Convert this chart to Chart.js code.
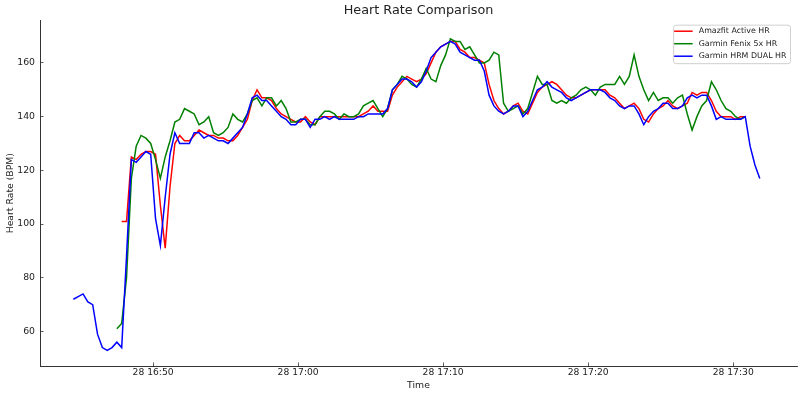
<!DOCTYPE html>
<html>
<head>
<meta charset="utf-8">
<title>Heart Rate Comparison</title>
<script src="https://cdn.jsdelivr.net/npm/chart.js@4.4.0/dist/chart.umd.min.js"></script>
<style>
  html, body { margin: 0; padding: 0; background: #fff; }
  #wrap { width: 800px; height: 397px; }
</style>
</head>
<body>
<div id="wrap"><canvas id="hr-chart" width="800" height="397"></canvas></div>
<script>
/* Samples every 20 s, time in minutes after 16:00 on the 28th */
var T0 = 44.5;
var STEP = 1 / 3;

var LABELS = ['Amazfit Active HR', 'Garmin Fenix 5x HR', 'Garmin HRM DUAL HR'];

/* first sample index of each series on the 20 s grid */
var RED_START = 10;
var GREEN_START = 9;
var BLUE_START = 0;

var RED_HR = [
  101, 101, 125, 124, 126, 127, 127, 126, 107, 91,
  114, 130, 133, 131, 131, 133, 135, 134, 133, 133,
  132, 132, 131, 131, 133, 136, 139, 146, 150, 147,
  147, 146, 143, 141, 140, 139, 138, 138, 140, 138,
  137, 140, 140, 140, 140, 140, 140, 140, 140, 140,
  141, 142, 144, 142, 142, 142, 148, 151, 153, 155,
  154, 153, 154, 156, 160, 164, 166, 167, 168, 168,
  165, 164, 162, 162, 161, 160, 152, 146, 143, 141,
  142, 144, 145, 142, 141, 145, 149, 151, 152, 153,
  152, 150, 148, 147, 147, 148, 149, 150, 150, 150,
  150, 148, 147, 145, 143, 144, 145, 143, 139, 138,
  141, 143, 144, 146, 144, 143, 144, 145, 149, 148,
  149, 149, 146, 142, 140, 140, 140, 139, 140, 140
];

var GREEN_HR = [
  61,
  63, 80, 117, 129, 133, 132, 130, 124, 117, 125,
  131, 138, 139, 143, 142, 141, 137, 138, 140, 134,
  133, 134, 136, 141, 139, 138, 141, 146, 147, 144,
  147, 147, 144, 146, 143, 138, 138, 139, 139, 137,
  137, 140, 142, 142, 141, 139, 141, 140, 140, 141,
  144, 145, 146, 143, 140, 143, 150, 152, 155, 154,
  152, 151, 154, 158, 154, 153, 159, 163, 169, 168,
  168, 165, 166, 163, 160, 160, 161, 164, 163, 145,
  142, 143, 144, 141, 143, 149, 155, 152, 152, 146,
  145, 146, 145, 147, 148, 150, 151, 150, 148, 151,
  152, 152, 152, 155, 152, 155, 163, 155, 150, 146,
  149, 146, 147, 147, 145, 147, 148, 141, 135, 140,
  144, 146, 153, 150, 146, 143, 142, 140, 139, 140
];

var BLUE_HR = [
  72, 73, 74, 71, 70, 59, 54, 53, 54, 56,
  54, 88, 124, 123, 125, 127, 126, 102, 92, 110,
  126, 134, 130, 130, 130, 134, 134, 132, 133, 132,
  131, 131, 130, 132, 134, 136, 141, 147, 148, 146,
  146, 144, 142, 140, 139, 137, 137, 139, 139, 136,
  139, 139, 140, 139, 140, 139, 139, 139, 139, 140,
  140, 141, 141, 141, 141, 143, 150, 152, 154, 154,
  153, 151, 153, 157, 162, 164, 166, 167, 168, 167,
  164, 163, 162, 161, 161, 157, 148, 144, 142, 141,
  142, 144, 144, 140, 142, 146, 150, 151, 153, 151,
  150, 149, 147, 146, 147, 148, 149, 150, 150, 150,
  149, 147, 146, 144, 143, 144, 144, 141, 137, 140,
  142, 143, 145, 145, 143, 143, 144, 147, 148, 147,
  148, 148, 144, 139, 140, 139, 139, 139, 139, 140,
  129, 122, 117
];

var X_MIN = 42.2, X_MAX = 94.4;   /* minutes after 16:00 */
var Y_MIN = 47.15, Y_MAX = 175.85;

var FONT = "'DejaVu Sans', sans-serif";

function toPoints(values, start) {
  return values.map(function (v, i) {
    return { x: T0 + (start + i) * STEP, y: v };
  });
}

function timeLabel(v) {
  var h = 16 + Math.floor(v / 60);
  var m = Math.round(v % 60);
  return '28 ' + h + ':' + (m < 10 ? '0' + m : m);
}

/* centre the title over the plot area instead of the whole canvas */
var titleOverPlot = {
  id: 'titleOverPlot',
  afterLayout: function (chart) {
    if (chart.titleBlock) {
      chart.titleBlock.left = chart.chartArea.left;
      chart.titleBlock.right = chart.chartArea.right;
    }
  }
};

/* matplotlib-style legend box inside the top-right corner */
var insideLegend = {
  id: 'insideLegend',
  afterDraw: function (chart) {
    var ctx = chart.ctx;
    var area = chart.chartArea;
    var sets = chart.data.datasets;
    ctx.save();
    ctx.font = '7.9px ' + FONT;
    var textW = 0;
    sets.forEach(function (d) { textW = Math.max(textW, ctx.measureText(d.label).width); });
    var rowH = 12.5;
    var w = 25.6 + textW + 3.5;
    var h = rowH * sets.length + 1;
    var right = area.right - 7;
    var left = right - w;
    var top = area.top + 4.3;

    ctx.beginPath();
    ctx.roundRect(left + 0.5, top + 0.5, w, h, 2.5);
    ctx.fillStyle = 'rgba(255,255,255,0.8)';
    ctx.fill();
    ctx.strokeStyle = '#d0d0d0';
    ctx.lineWidth = 1;
    ctx.stroke();

    ctx.textBaseline = 'middle';
    ctx.textAlign = 'left';
    sets.forEach(function (d, i) {
      var cy = top + rowH * (i + 0.5) + 0.3;
      ctx.beginPath();
      ctx.moveTo(left + 1, cy);
      ctx.lineTo(left + 19.5, cy);
      ctx.strokeStyle = d.borderColor;
      ctx.lineWidth = 1.5;
      ctx.stroke();
      ctx.fillStyle = '#222';
      ctx.fillText(d.label, left + 25.6, cy);
    });
    ctx.restore();
  }
};

var ctx = document.getElementById('hr-chart').getContext('2d');

new Chart(ctx, {
  type: 'line',
  data: {
    datasets: [
      {
        label: LABELS[0],
        data: toPoints(RED_HR, RED_START),
        borderColor: '#ff0000',
        borderWidth: 1.5,
        pointRadius: 0,
        tension: 0,
        fill: false,
        order: 2
      },
      {
        label: LABELS[1],
        data: toPoints(GREEN_HR, GREEN_START),
        borderColor: '#008000',
        borderWidth: 1.5,
        pointRadius: 0,
        tension: 0,
        fill: false,
        order: 1
      },
      {
        label: LABELS[2],
        data: toPoints(BLUE_HR, BLUE_START),
        borderColor: '#0000ff',
        borderWidth: 1.5,
        pointRadius: 0,
        tension: 0,
        fill: false,
        order: 0
      }
    ]
  },
  plugins: [titleOverPlot, insideLegend],
  options: {
    responsive: false,
    animation: false,
    events: [],
    layout: { padding: { left: 0, right: 3, top: 0, bottom: 0 } },
    plugins: {
      legend: { display: false },
      tooltip: { enabled: false },
      title: {
        display: true,
        text: 'Heart Rate Comparison',
        color: '#222',
        font: { family: FONT, size: 12.8, weight: 'normal' },
        padding: { top: 3, bottom: 2 }
      }
    },
    scales: {
      x: {
        type: 'linear',
        min: X_MIN,
        max: X_MAX,
        afterFit: function (scale) { scale.height = 31; },
        afterBuildTicks: function (scale) {
          scale.ticks = scale.ticks.filter(function (t) {
            return Math.abs(t.value - Math.round(t.value / 10) * 10) < 1e-6;
          });
        },
        ticks: {
          stepSize: 10,
          color: '#222',
          padding: 4.3,
          maxRotation: 0,
          autoSkip: false,
          font: { family: FONT, size: 9.2 },
          callback: function (v) { return timeLabel(v); }
        },
        /* negative tick length: tick marks point into the plot */
        grid: { drawOnChartArea: false, drawTicks: true, tickLength: -3.5, tickColor: '#333', lineWidth: 0.8 },
        border: { display: true, color: '#333', width: 1 },
        title: {
          display: true,
          text: 'Time',
          color: '#222',
          font: { family: FONT, size: 9.3 },
          padding: { top: 0, bottom: 6 }
        }
      },
      y: {
        type: 'linear',
        min: Y_MIN,
        max: Y_MAX,
        afterFit: function (scale) { scale.width = 40; },
        afterBuildTicks: function (scale) {
          scale.ticks = scale.ticks.filter(function (t) {
            return Math.abs(t.value - Math.round(t.value / 20) * 20) < 1e-6;
          });
        },
        ticks: {
          stepSize: 20,
          color: '#222',
          padding: 8.5,
          font: { family: FONT, size: 9.3 }
        },
        grid: { drawOnChartArea: false, drawTicks: true, tickLength: -3.5, tickColor: '#333', lineWidth: 0.8 },
        border: { display: true, color: '#333', width: 1 },
        title: {
          display: true,
          text: 'Heart Rate (BPM)',
          color: '#222',
          font: { family: FONT, size: 9.3 },
          padding: { top: 5, bottom: 0 }
        }
      }
    }
  }
});
</script>
</body>
</html>
